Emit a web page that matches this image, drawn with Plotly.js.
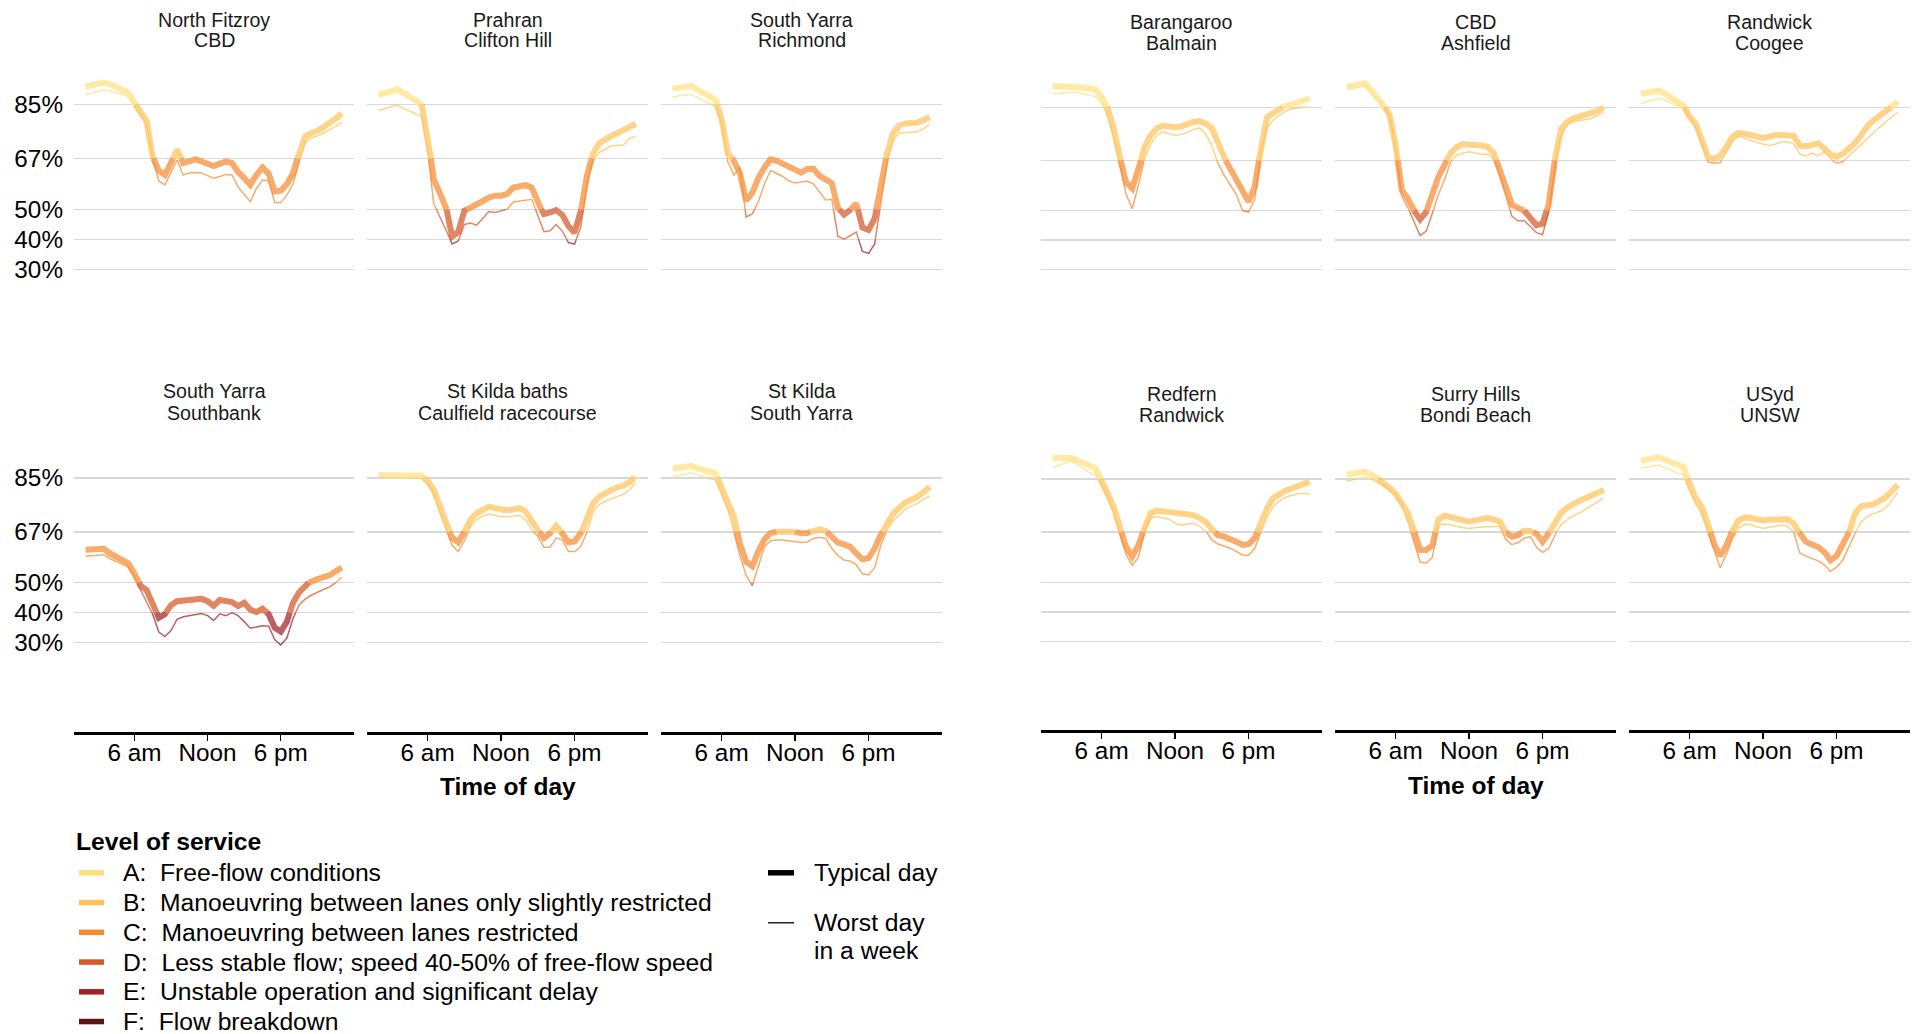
<!DOCTYPE html>
<html><head><meta charset="utf-8">
<script src="https://cdn.plot.ly/plotly-3.0.1.min.js"></script>
<style>html,body{margin:0;padding:0;background:#fff;}#chart{width:1912px;height:1034px;}</style>
</head><body><div id="chart"></div>
<script>
// ---------------- DATA ----------------
const hours = [2,2.5,3,3.5,4,4.5,5,5.5, 6,6.5,7,7.5,8,8.5,9,9.5, 10,10.5,11,11.5,12,12.5,13,13.5, 14,14.5,15,15.5,16,16.5,17,17.5, 18,18.5,19,19.5,20,20.5,21,21.5, 22,22.5,23];
const tickHours = [6, 12, 18];
const tickHourLabels = ['6 am', 'Noon', '6 pm'];
const speedTicks = [30, 40, 50, 67, 85];
const speedTickLabels = ['30%', '40%', '50%', '67%', '85%'];
const losThresholds = [30, 40, 50, 67, 85];
const losLabels = ['A:\u00a0\u00a0Free-flow conditions','B:\u00a0\u00a0Manoeuvring between lanes only slightly restricted','C:\u00a0\u00a0Manoeuvring between lanes restricted','D:\u00a0\u00a0Less stable flow; speed 40-50% of free-flow speed','E:\u00a0\u00a0Unstable operation and significant delay','F:\u00a0\u00a0Flow breakdown'];
const losColours = ['#FFE07F','#FFC35A','#F68B33','#D4582A','#A02226','#621214'];
const legendTitle = 'Level of service';
const dayLabels = [['Typical day'], ['Worst day', 'in a week']];

const melNorthFitzroyTypical = [91.0,91.6,92.0,92.3,91.8,91.0,90.2,89.0, 85.5,82.5,79.5,67.5,63.0,61.5,65.5,70.0, 65.5,66.0,66.8,66.0,65.2,64.5,65.3,66.0, 65.5,62.5,60.5,58.2,61.5,64.0,62.0,56.0, 56.3,58.5,62.0,69.0,74.3,75.5,76.2,77.5, 78.8,80.3,82.0];
const melNorthFitzroyWorst   = [88.3,88.8,89.4,89.8,89.5,89.0,88.4,87.6, 84.5,81.8,78.5,67.0,59.5,58.2,62.5,66.5, 61.5,62.2,62.3,62.2,61.3,60.4,61.0,61.7, 61.5,57.5,55.0,52.6,57.0,59.8,59.6,52.3, 52.3,54.8,58.5,66.0,72.5,73.8,74.5,75.5, 76.5,77.7,79.0];
const melPrahranTypical = [88.2,88.8,89.5,90.0,89.0,87.8,86.6,85.5, 75.0,60.0,55.5,51.0,41.0,42.5,49.6,50.5, 51.8,52.8,54.0,54.6,54.6,55.2,57.3,57.5, 58.1,57.3,52.0,48.5,49.0,49.8,48.2,44.5, 42.3,49.0,61.0,68.5,72.0,73.5,74.5,75.5, 76.5,77.5,78.5];
const melPrahranWorst   = [83.0,83.6,84.3,84.8,83.8,82.8,81.8,81.0, 70.0,52.0,47.5,43.5,38.5,39.5,45.0,45.5, 44.8,47.0,49.3,49.0,49.6,50.1,52.5,52.8, 53.0,53.4,48.0,42.6,42.9,45.0,42.8,39.0, 38.5,44.0,58.0,66.5,68.9,70.0,71.2,71.4, 71.5,73.8,74.3];
const melRichmondTypical = [90.3,90.6,91.0,91.2,90.0,88.8,87.6,86.6, 80.0,69.0,66.2,62.0,53.0,55.5,60.5,64.0, 66.7,66.2,65.3,64.3,63.3,62.3,63.5,63.6, 61.2,59.8,58.8,50.5,48.3,49.8,52.0,44.0, 43.2,47.0,58.0,68.5,75.5,78.0,78.7,78.8, 79.0,79.8,80.9];
const melRichmondWorst   = [87.5,87.9,88.2,88.4,87.4,86.3,85.3,84.4, 79.0,66.0,61.5,64.0,47.5,48.5,52.6,58.5, 63.0,62.0,61.0,59.5,58.8,59.2,59.5,58.5, 56.0,53.2,53.4,41.0,40.1,41.2,42.5,36.0, 35.4,38.5,52.0,66.0,73.0,75.5,75.7,75.8, 75.9,77.0,78.5];
const melSouthbankTypical = [61.0,61.2,61.3,61.3,59.8,58.6,57.5,56.5, 53.0,49.0,47.5,43.0,38.3,39.5,42.5,43.8, 44.1,44.5,44.8,44.6,43.8,42.3,44.2,43.8, 43.5,42.2,43.3,41.0,40.2,41.3,39.5,35.0, 33.7,37.0,43.3,46.8,49.3,50.5,51.2,51.9, 52.5,53.8,55.1];
const melSouthbankWorst   = [58.8,59.0,59.2,59.3,58.0,57.0,56.2,55.3, 52.0,47.5,43.5,39.5,33.5,32.0,34.0,37.8, 38.6,39.0,39.4,39.7,39.0,37.4,39.6,39.0, 40.0,39.0,37.0,34.8,35.2,35.6,35.5,31.0, 29.2,31.5,38.0,42.6,44.5,45.8,46.8,47.6, 48.6,50.0,51.8];
const melCaulfieldTypical = [86.0,86.0,86.0,85.9,85.9,85.8,85.8,85.7, 84.0,81.0,75.5,70.0,65.0,63.5,67.0,71.0, 73.2,74.6,75.4,74.9,74.3,74.1,74.5,74.9, 73.8,70.5,67.6,64.9,66.5,69.0,66.5,63.5, 63.8,66.0,71.0,76.5,78.7,80.0,81.0,81.8, 82.4,83.6,85.5];
const melCaulfieldWorst   = [85.4,85.3,85.3,85.2,85.1,85.0,84.9,84.8, 83.0,79.5,73.5,68.0,62.5,60.4,64.0,68.8, 71.0,72.3,72.9,72.5,72.1,72.0,72.3,72.5, 71.0,67.5,65.5,61.8,61.8,65.0,64.3,60.5, 60.4,62.0,66.5,73.5,76.0,77.2,78.0,78.9, 79.6,81.0,83.5];
const melStKildaTypical = [88.1,88.4,88.7,89.0,88.3,87.7,87.1,86.5, 82.0,77.0,72.0,63.0,57.0,55.5,60.5,64.5, 66.6,67.0,67.1,67.2,67.0,66.5,66.6,67.4, 67.8,67.3,65.5,63.4,62.8,62.0,59.8,57.8, 58.2,61.5,66.0,69.5,73.0,75.0,76.8,77.8, 78.7,80.3,82.0];
const melStKildaWorst   = [85.3,85.8,86.3,86.7,86.0,85.4,84.8,84.3, 79.5,74.5,67.0,59.0,52.5,49.0,55.5,62.0, 64.0,64.3,64.3,64.0,63.7,63.4,63.6,64.8, 65.2,64.8,61.5,59.0,57.6,57.2,56.0,53.0, 52.6,55.0,62.5,67.5,70.5,72.5,74.5,75.6, 76.5,77.8,79.0];
const sydBalmainTypical = [92.2,92.2,92.1,92.0,91.8,91.6,91.4,91.0, 88.5,84.5,77.5,68.0,59.5,57.5,63.5,71.5, 75.5,77.8,78.8,78.5,78.2,78.5,79.3,80.0, 80.3,79.5,77.9,73.0,68.0,64.0,60.5,56.0, 53.0,58.0,71.0,81.5,83.0,84.3,85.5,86.0, 86.6,87.3,88.0];
const sydBalmainWorst   = [89.6,89.8,89.9,90.0,90.0,89.6,89.1,88.6, 86.5,82.0,74.5,65.5,55.5,50.6,58.5,67.5, 72.3,75.5,76.7,76.0,75.4,75.8,76.4,77.5, 78.0,76.0,72.0,66.0,62.0,58.6,55.5,50.0, 49.5,53.6,69.5,78.0,80.5,82.3,83.6,84.4, 84.8,85.0,85.2];
const sydAshfieldTypical = [92.0,92.4,92.8,93.1,90.8,88.0,85.8,82.5, 72.0,57.0,54.0,50.0,47.0,49.5,56.0,61.5, 65.5,69.5,71.5,72.5,72.3,72.3,72.0,71.6, 69.5,64.0,58.0,52.0,50.8,50.0,47.5,45.0, 45.5,52.0,67.0,77.5,80.0,81.2,81.8,82.3, 82.8,83.8,85.0];
const sydAshfieldWorst   = [90.8,91.3,91.8,92.2,90.0,87.5,85.0,82.0, 71.0,55.0,51.0,46.0,41.5,43.0,49.0,55.5, 60.5,66.5,68.8,69.5,69.9,69.5,69.1,69.1, 67.5,62.0,55.0,48.0,46.5,46.6,44.6,42.5, 41.8,49.0,65.0,75.5,79.0,80.1,80.5,80.8, 81.2,82.3,83.5];
const sydCoogeeTypical = [89.6,89.9,90.3,90.6,89.6,88.4,87.0,85.5, 81.8,79.5,74.5,68.2,67.5,68.5,71.5,75.0, 76.3,76.2,75.6,75.0,74.6,75.0,75.6,75.6, 75.5,75.3,72.0,71.8,72.2,72.8,71.0,69.0, 68.2,69.2,71.0,72.8,75.5,78.5,80.5,82.0, 83.5,85.2,86.9];
const sydCoogeeWorst   = [86.3,86.9,87.4,88.0,87.3,86.5,85.6,84.7, 81.5,78.0,72.8,66.5,66.0,66.2,70.0,73.5, 75.2,74.5,73.6,73.0,72.5,72.0,72.5,73.2, 73.3,72.5,69.2,68.5,69.5,68.5,70.0,67.5, 66.0,66.5,68.5,70.5,72.5,74.5,76.5,78.2, 80.0,81.8,83.3];
const sydRandwickTypical = [92.0,92.0,92.1,92.1,91.3,90.4,89.5,88.6, 84.5,80.0,75.5,68.5,62.0,58.8,62.5,68.5, 73.5,74.3,74.1,73.9,73.7,73.4,73.1,72.8, 71.8,70.5,68.0,66.0,65.5,64.9,63.8,62.7, 63.0,65.0,70.0,75.0,78.5,80.0,81.0,81.8, 82.5,83.3,84.1];
const sydRandwickWorst   = [88.8,89.6,90.4,91.1,89.8,88.4,87.2,86.3, 82.5,78.5,73.5,66.5,59.5,55.8,58.5,67.0, 72.0,72.3,71.9,71.4,70.0,69.4,69.8,70.0, 69.0,67.5,64.4,63.0,62.2,61.6,60.5,59.3, 59.2,61.5,67.0,72.0,75.5,77.5,78.8,79.5, 80.0,80.2,79.8];
const sydBondiTypical = [86.5,86.8,87.2,87.5,86.5,85.2,83.8,82.0, 80.0,76.8,73.5,67.5,61.0,61.0,62.5,71.3, 72.6,72.0,71.3,70.8,70.6,71.0,71.6,71.8, 71.3,70.6,67.0,65.5,66.0,67.5,67.4,66.5, 63.8,66.5,70.5,73.5,75.3,76.6,77.6,78.5, 79.3,80.2,81.3];
const sydBondiWorst   = [84.2,84.7,85.3,85.8,85.0,84.0,82.8,81.2, 79.8,76.0,70.5,63.5,57.0,56.5,58.5,69.4, 69.8,69.5,68.9,68.5,68.3,68.5,68.8,68.9, 68.9,68.9,64.5,62.8,63.5,65.0,65.5,62.0, 60.2,61.5,66.0,69.5,71.2,72.5,73.5,74.8, 76.0,77.2,78.5];
const sydUnswTypical = [91.2,91.6,92.0,92.3,91.5,90.6,89.8,89.0, 83.0,78.5,75.5,70.0,63.0,59.0,62.5,67.5, 71.0,72.0,71.8,71.4,71.0,71.2,71.3,71.4, 71.4,70.0,66.5,63.8,62.8,62.0,60.3,57.5, 59.0,62.5,66.6,73.2,75.8,76.3,76.4,77.5, 78.8,80.8,83.0];
const sydUnswWorst   = [88.7,89.1,89.4,89.7,88.8,87.9,87.0,86.4, 81.0,76.5,73.0,67.0,61.0,55.0,59.5,65.0, 68.3,69.7,69.5,68.8,68.3,68.7,69.1,69.4, 69.0,67.0,60.0,58.9,58.2,57.3,56.0,53.8, 55.2,57.5,62.0,66.5,70.5,72.3,73.3,74.0, 75.2,77.5,80.5];

const panelTitles = [
  ['North Fitzroy','CBD'], ['Prahran','Clifton Hill'], ['South Yarra','Richmond'],
  ['South Yarra','Southbank'], ['St Kilda baths','Caulfield racecourse'], ['St Kilda','South Yarra'],
  ['Barangaroo','Balmain'], ['CBD','Ashfield'], ['Randwick','Coogee'],
  ['Redfern','Randwick'], ['Surry Hills','Bondi Beach'], ['USyd','UNSW']
];
const panelTypical = [melNorthFitzroyTypical, melPrahranTypical, melRichmondTypical, melSouthbankTypical, melCaulfieldTypical, melStKildaTypical,
  sydBalmainTypical, sydAshfieldTypical, sydCoogeeTypical, sydRandwickTypical, sydBondiTypical, sydUnswTypical];
const panelWorst = [melNorthFitzroyWorst, melPrahranWorst, melRichmondWorst, melSouthbankWorst, melCaulfieldWorst, melStKildaWorst,
  sydBalmainWorst, sydAshfieldWorst, sydCoogeeWorst, sydRandwickWorst, sydBondiWorst, sydUnswWorst];

// ---------------- LAYOUT GEOMETRY ----------------
const W = 1912, H = 1034;
const FONT = '"Liberation Sans", Arial, Helvetica, sans-serif';
const colsPx = { mel: [[74,354],[367,648],[661,942]], syd: [[1041,1322],[1335,1616],[1629,1910]] };
const rowsPx = { mel: [[59.5,359.5],[433,732.4]], syd: [[63,358],[434.6,730.4]] };
const titleYPx = { mel: [[19.5,40],[391.4,413.4]], syd: [[22,42.7],[394,414.6]] };

function losLevel(v) {
  if (v >= 85) return 0; if (v >= 67) return 1; if (v >= 50) return 2;
  if (v >= 40) return 3; if (v >= 30) return 4; return 5;
}
// split a series into runs of constant level of service (split where it crosses a boundary)
function runsOf(xs, ys) {
  const runs = [];
  let cur = { lvl: losLevel(ys[0]), x: [xs[0]], y: [ys[0]] };
  for (let i = 1; i < xs.length; i++) {
    const x0 = xs[i-1], y0 = ys[i-1], x1 = xs[i], y1 = ys[i];
    let cross = losThresholds.filter(t => (y0 < t && y1 >= t) || (y0 >= t && y1 < t));
    cross.sort((a, b) => y1 > y0 ? a - b : b - a);
    for (const t of cross) {
      const xc = x0 + (t - y0) / (y1 - y0) * (x1 - x0);
      cur.x.push(xc); cur.y.push(t); runs.push(cur);
      cur = { lvl: y1 > y0 ? losLevel(t) : losLevel(t - 1e-6), x: [xc], y: [t] };
    }
    cur.x.push(x1); cur.y.push(y1);
  }
  runs.push(cur);
  return runs;
}

const px = v => v / W, py = v => 1 - v / H;
const traces = [];
const layout = {
  width: W, height: H, margin: {l:0, r:0, t:0, b:0, autoexpand: false},
  paper_bgcolor: '#fff', plot_bgcolor: 'rgba(0,0,0,0)',
  font: {family: FONT, size: 24, color: '#000'},
  showlegend: false, annotations: [], shapes: [],
  hovermode: false
};

for (let p = 0; p < 12; p++) {
  const city = p < 6 ? 'mel' : 'syd';
  const r = Math.floor((p % 6) / 3), c = p % 3;
  const k = p === 0 ? '' : String(p + 1);
  const [xl, xr] = colsPx[city][c];
  const [yt, yb] = rowsPx[city][r];
  layout['xaxis' + k] = {
    domain: [px(xl), px(xr)], range: [1.05, 24.0], anchor: 'y' + k,
    showgrid: false, zeroline: false, fixedrange: true,
    showline: r === 1, linecolor: '#000', linewidth: 2.5,
    ticks: r === 1 ? 'outside' : '', ticklen: 6, tickwidth: 1.2, tickcolor: '#000',
    tickvals: tickHours, ticktext: tickHourLabels, showticklabels: r === 1, ticklabelstandoff: -9,
    tickfont: {family: FONT, size: 24.3, color: '#000'}
  };
  layout['yaxis' + k] = {
    domain: [py(yb), py(yt)], range: [0, 100], anchor: 'x' + k,
    showgrid: true, gridcolor: '#d9d9d9', gridwidth: 1.5, zeroline: false, showline: false,
    fixedrange: true, ticks: '', tickvals: speedTicks, ticktext: speedTickLabels,
    showticklabels: city === 'mel' && c === 0, ticklabelstandoff: 10,
    tickfont: {family: FONT, size: 24.3, color: '#000'}
  };
  const series = [[panelWorst[p], 1.5], [panelTypical[p], 6]];
  for (const [ys, w] of series) {
    for (const run of runsOf(hours, ys)) {
      traces.push({
        type: 'scatter', mode: 'lines', x: run.x, y: run.y, xaxis: 'x' + k, yaxis: 'y' + k,
        line: {color: losColours[run.lvl], width: w}, opacity: 0.72,
        showlegend: false, hoverinfo: 'skip'
      });
    }
  }
  const tx = px((xl + xr) / 2);
  titleYPx[city][r].forEach((ty, j) => {
    layout.annotations.push({
      xref: 'paper', yref: 'paper', x: tx, y: py(ty), xanchor: 'center', yanchor: 'middle',
      text: panelTitles[p][j], showarrow: false, font: {family: FONT, size: 19.6, color: '#1a1a1a'}
    });
  });
}

// axis titles
[[507.5, 786.5], [1475.5, 785]].forEach(([ax, ay]) => {
  layout.annotations.push({xref:'paper', yref:'paper', x: px(ax), y: py(ay), xanchor:'center', yanchor:'middle',
    text:'<b>Time of day</b>', showarrow:false, font:{family:FONT, size:24.5, color:'#000'}});
});

// legend: level of service
const txt = (x, y, s, opts) => Object.assign({xref:'paper', yref:'paper', x: px(x), y: py(y), xanchor:'left', yanchor:'middle',
  text: s, showarrow:false, font:{family:FONT, size:24.7, color:'#000'}}, opts || {});
layout.annotations.push(txt(74, 841.5, '<b>' + legendTitle + '</b>'));
losLabels.forEach((lab, i) => {
  const y = 872.8 + 29.75 * i;
  layout.shapes.push({type:'line', xref:'paper', yref:'paper', x0: px(79), x1: px(104), y0: py(y), y1: py(y),
    line:{color: losColours[i], width: 5.5}});
  layout.annotations.push(txt(121, y, lab));
});
// legend: line width = day type
const dayY = [[872.8], [922.8, 950.8]];
const dayW = [5.5, 1.3];
dayLabels.forEach((lines, i) => {
  layout.shapes.push({type:'line', xref:'paper', yref:'paper', x0: px(768), x1: px(794), y0: py(dayY[i][0]), y1: py(dayY[i][0]),
    line:{color:'#000', width: dayW[i]}});
  lines.forEach((s, j) => layout.annotations.push(txt(812, dayY[i][j], s)));
});

Plotly.newPlot('chart', traces, layout, {displayModeBar: false, staticPlot: true});
</script>
</body></html>
